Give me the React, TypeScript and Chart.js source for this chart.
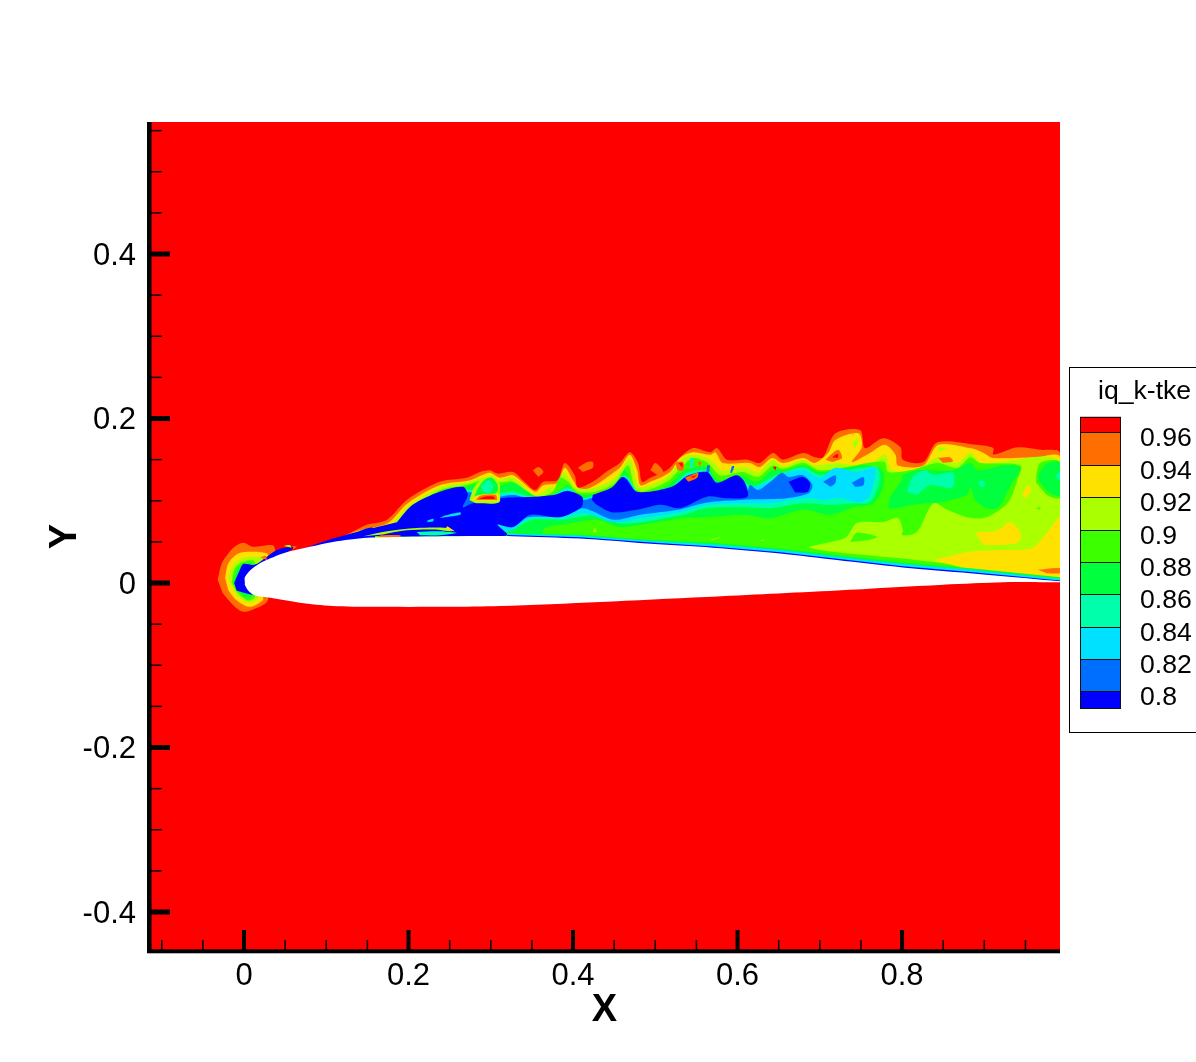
import React, { useEffect, useRef } from "react";
import { Chart, registerables } from "chart.js";

Chart.register(...registerables);

type P = number[][];

const RED = "#ff0000", ORANGE = "#ff6e00", YELLOW = "#ffe100", LIME = "#aaff00", G1 = "#3cff00",
  S = "#00ff3c", T = "#00ffaa", C = "#00e1ff", A = "#006eff", B = "#0000ff";

const xMajor = [0, 0.2, 0.4, 0.6, 0.8];
const yMajor = [-0.4, -0.2, 0, 0.2, 0.4];
const xMinor = [-0.1, -0.05, 0.05, 0.1, 0.15, 0.25, 0.3, 0.35, 0.45, 0.5, 0.55, 0.65, 0.7, 0.75, 0.85, 0.9, 0.95];
const yMinor = [-0.35, -0.3, -0.25, -0.15, -0.1, -0.05, 0.05, 0.1, 0.15, 0.25, 0.3, 0.35, 0.45, 0.5, 0.55];
const legendColors = [RED, ORANGE, YELLOW, LIME, G1, S, T, C, A, B];
const legendLabels = ["0.96", "0.94", "0.92", "0.9", "0.88", "0.86", "0.84", "0.82", "0.8"];

const X_MIN = -0.1155, X_MAX = 0.992, Y_MIN = -0.4474, Y_MAX = 0.5605;

const field: P = [[X_MIN, Y_MIN], [X_MAX, Y_MIN], [X_MAX, Y_MAX], [X_MIN, Y_MAX]];

const airfoil: P = [[.001,.001],[.001,.007],[.007,.015],[.016,.022],[.032,.030],[.047,.036],[.080,.044],[.108,.050],[.150,.055],[.190,.056],[.250,.057],[.327,.057],[.409,.054],[.490,.048],[.570,.043],[.652,.036],[.721,.028],[.801,.019],[.883,.012],[.992,.002],[.992,.001],[.923,.001],[.850,-.002],[.721,-.009],[.640,-.013],[.561,-.017],[.433,-.023],[.311,-.028],[.247,-.029],[.157,-.029],[.108,-.028],[.068,-.024],[.032,-.018],[.013,-.015],[.005,-.009],[.001,-.002]];

const orangeMain: P = [[.074,.041],[.108,.051],[.141,.067],[.150,.071],[.174,.077],[.198,.101],[.238,.123],[.271,.128],[.287,.135],[.299,.137],[.308,.133],[.327,.135],[.339,.125],[.354,.113],[.364,.123],[.381,.125],[.390,.146],[.402,.131],[.406,.116],[.424,.123],[.443,.137],[.457,.146],[.469,.159],[.479,.146],[.484,.123],[.494,.128],[.514,.137],[.527,.150],[.546,.164],[.567,.159],[.575,.164],[.587,.150],[.612,.150],[.627,.146],[.643,.158],[.655,.150],[.680,.158],[.694,.153],[.704,.153],[.719,.182],[.749,.186],[.755,.164],[.777,.176],[.798,.165],[.801,.150],[.826,.147],[.843,.171],[.891,.168],[.911,.164],[.911,.156],[.940,.165],[.968,.162],[.992,.158],[.992,.01],[.3,.03],[.074,.03]];
const orangeLE: P = [[-.032,.004],[-.027,.024],[-.019,.036],[-.013,.043],[-.001,.049],[.011,.044],[.035,.046],[.038,.038],[.03,.01],[.030,-.012],[.028,-.023],[.016,-.030],[-.001,-.035],[-.013,-.027],[-.026,-.012]];
const orangeIsle1: P = [[.351,.137],[.358,.141],[.364,.135],[.358,.129]];
const orangeIsle2: P = [[.406,.140],[.417,.147],[.424,.147],[.424,.140],[.412,.135]];
const orangeIsle3: P = [[.494,.137],[.500,.146],[.510,.135],[.503,.131]];
const orangeTip: P = [[.058,.045],[.064,.044],[.06,.041]];

const yellowMain: P = [[.092,.046],[.141,.064],[.175,.073],[.199,.097],[.238,.119],[.275,.125],[.289,.131],[.299,.134],[.311,.128],[.327,.131],[.354,.111],[.364,.119],[.381,.122],[.390,.140],[.400,.125],[.409,.113],[.427,.119],[.449,.134],[.457,.140],[.469,.156],[.478,.137],[.482,.119],[.494,.123],[.518,.135],[.530,.152],[.546,.159],[.567,.156],[.573,.159],[.582,.146],[.615,.146],[.627,.141],[.642,.152],[.655,.146],[.680,.152],[.694,.146],[.710,.158],[.719,.174],[.747,.182],[.751,.165],[.739,.147],[.761,.158],[.779,.168],[.792,.156],[.795,.143],[.826,.143],[.844,.168],[.883,.164],[.899,.158],[.910,.152],[.964,.153],[.992,.153],[.992,.008],[.433,.045],[.092,.036]];
const yellowLE: P = [[-.023,.006],[-.019,.024],[-.007,.036],[.013,.038],[.028,.036],[.029,.033],[.02,.015],[.023,-.016],[.023,-.021],[.007,-.029],[-.009,-.021],[-.019,-.009]];

const limeMain: P = [[.105,.046],[.147,.062],[.180,.073],[.202,.095],[.241,.117],[.269,.122],[.291,.128],[.308,.125],[.327,.128],[.354,.107],[.372,.116],[.381,.117],[.388,.135],[.405,.116],[.427,.116],[.451,.128],[.469,.150],[.478,.122],[.482,.116],[.514,.129],[.534,.152],[.546,.156],[.567,.150],[.582,.137],[.607,.141],[.625,.135],[.643,.150],[.655,.142],[.680,.150],[.694,.143],[.719,.146],[.758,.143],[.779,.156],[.788,.137],[.822,.140],[.843,.153],[.867,.146],[.883,.158],[.897,.146],[.992,.147],[.992,.007],[.9,.014],[.45,.035],[.105,.035]];
const limeLE: P = [[-.019,.004],[-.015,.019],[-.002,.030],[.016,.032],[.023,.030],[.019,.016],[.017,-.018],[.005,-.024],[-.009,-.015]];

const g1Main: P = [[.111,.046],[.153,.061],[.186,.073],[.204,.092],[.241,.114],[.269,.119],[.291,.125],[.308,.122],[.327,.123],[.354,.105],[.375,.111],[.384,.128],[.394,.123],[.405,.111],[.427,.111],[.451,.122],[.467,.143],[.475,.116],[.484,.111],[.514,.123],[.534,.143],[.546,.152],[.564,.146],[.579,.131],[.606,.135],[.625,.129],[.643,.143],[.655,.139],[.680,.146],[.700,.137],[.733,.141],[.758,.146],[.779,.147],[.783,.135],[.810,.137],[.843,.146],[.867,.140],[.883,.153],[.895,.146],[.944,.143],[.940,.125],[.931,.101],[.919,.089],[.899,.079],[.879,.080],[.855,.089],[.838,.097],[.818,.062],[.800,.058],[.801,.064],[.795,.079],[.777,.074],[.745,.073],[.731,.055],[.688,.043],[.798,.030],[.919,.016],[.980,.009],[.975,.006],[.900,.013],[.652,.030],[.311,.045],[.111,.042]];
const g1Right: P = [[.963,.131],[.968,.146],[.992,.147],[.992,.104],[.978,.106],[.963,.122]];
const g1Isle: P = [[.737,.050],[.745,.061],[.770,.056],[.758,.052]];
const g1Dot: P = [[.963,.091],[.969,.092],[.966,.089]];
const g1LE: P = [[-.015,.001],[-.011,.018],[-.001,.026],[.013,.026],[.013,-.017],[.004,-.021],[-.009,-.011]];

const s1: P = [[.190,.073],[.207,.091],[.242,.112],[.269,.117],[.291,.122],[.308,.117],[.327,.122],[.356,.105],[.376,.108],[.394,.119],[.402,.109],[.427,.108],[.451,.117],[.463,.137],[.473,.113],[.485,.109],[.516,.119],[.536,.137],[.563,.141],[.576,.125],[.603,.131],[.624,.123],[.643,.137],[.658,.137],[.680,.143],[.700,.135],[.733,.140],[.758,.143],[.776,.137],[.777,.117],[.765,.097],[.741,.092],[.713,.083],[.680,.089],[.640,.079],[.607,.083],[.563,.080],[.534,.079],[.485,.071],[.457,.068],[.429,.077],[.388,.071],[.366,.067],[.360,.057],[.320,.061],[.190,.064]];
const s2: P = [[.801,.131],[.818,.137],[.862,.137],[.883,.146],[.892,.137],[.923,.143],[.944,.140],[.931,.117],[.917,.092],[.903,.091],[.889,.101],[.883,.116],[.879,.107],[.846,.098],[.830,.097],[.813,.095],[.785,.091],[.785,.103],[.800,.125]];
const s3: P = [[.965,.131],[.976,.145],[.992,.146],[.992,.107],[.980,.109],[.968,.122]];
const sLE: P = [[-.013,.001],[-.007,.018],[.001,.024],[.011,.022],[.011,-.015],[.001,-.017],[-.007,-.009]];

const tMain: P = [[.193,.073],[.209,.090],[.243,.109],[.266,.114],[.308,.109],[.327,.111],[.356,.103],[.376,.107],[.394,.116],[.411,.103],[.427,.107],[.449,.116],[.463,.131],[.478,.111],[.485,.107],[.520,.117],[.539,.134],[.563,.137],[.575,.122],[.601,.128],[.618,.117],[.642,.129],[.658,.135],[.680,.141],[.700,.131],[.733,.137],[.758,.141],[.770,.141],[.773,.125],[.761,.098],[.741,.097],[.713,.095],[.680,.097],[.640,.091],[.612,.092],[.563,.091],[.534,.083],[.485,.074],[.454,.073],[.429,.083],[.388,.077],[.351,.077],[.330,.067],[.317,.062],[.299,.064],[.193,.067]];
const tIsle1: P = [[.806,.111],[.813,.129],[.828,.137],[.838,.131],[.862,.134],[.861,.116],[.834,.119],[.818,.107]];
const tIsle2: P = [[.892,.122],[.897,.125],[.901,.119],[.897,.116]];
const tIsle3: P = [[.986,.129],[.992,.135],[.992,.125]];

const cMain: P = [[.196,.073],[.212,.089],[.244,.108],[.266,.112],[.308,.107],[.327,.108],[.356,.102],[.376,.106],[.394,.113],[.411,.102],[.427,.106],[.449,.113],[.463,.129],[.478,.109],[.485,.106],[.520,.116],[.539,.131],[.563,.135],[.575,.119],[.601,.125],[.615,.117],[.642,.125],[.658,.134],[.680,.137],[.700,.128],[.719,.140],[.745,.135],[.767,.140],[.761,.107],[.749,.098],[.725,.103],[.704,.101],[.692,.103],[.664,.101],[.640,.097],[.607,.097],[.563,.095],[.530,.086],[.485,.079],[.449,.074],[.412,.085],[.384,.079],[.348,.079],[.326,.064],[.311,.064],[.196,.069]];

const aMain: P = [[.198,.073],[.214,.088],[.246,.107],[.266,.111],[.308,.105],[.327,.107],[.356,.101],[.376,.105],[.394,.112],[.411,.101],[.427,.105],[.449,.112],[.463,.128],[.478,.108],[.485,.105],[.520,.114],[.539,.130],[.563,.134],[.575,.118],[.599,.130],[.612,.111],[.615,.119],[.625,.113],[.640,.123],[.654,.134],[.662,.129],[.679,.131],[.691,.119],[.686,.109],[.660,.103],[.640,.102],[.603,.101],[.563,.098],[.527,.089],[.482,.083],[.449,.077],[.412,.091],[.384,.081],[.345,.080],[.327,.068],[.308,.073],[.198,.069]];
const aIsle1: P = [[.704,.123],[.719,.131],[.719,.122],[.713,.117]];
const aIsle2: P = [[.739,.122],[.753,.129],[.753,.119],[.743,.117]];
const aIsle3: P = [[.563,.143],[.566,.143],[.565,.134],[.562,.134]];
const aIsle4: P = [[.593,.142],[.596,.142],[.593,.134],[.591,.134]];

const blue1: P = [[.186,.074],[.205,.095],[.238,.111],[.266,.117],[.272,.107],[.266,.092],[.278,.097],[.308,.098],[.311,.103],[.354,.105],[.376,.107],[.394,.112],[.411,.105],[.412,.097],[.409,.091],[.384,.080],[.348,.083],[.327,.068],[.308,.071],[.320,.058],[.259,.057],[.141,.058],[.157,.067]];
const blue2: P = [[.424,.107],[.447,.116],[.461,.129],[.478,.111],[.520,.117],[.539,.130],[.563,.135],[.575,.122],[.599,.131],[.609,.122],[.612,.105],[.587,.103],[.563,.105],[.530,.091],[.506,.095],[.478,.089],[.447,.086],[.429,.095],[.423,.101]];
const blue3: P = [[.662,.123],[.679,.129],[.688,.122],[.685,.111],[.670,.110]];
const blueLE: P = [[-.012,0],[-.005,.016],[-.001,.023],[.011,.022],[.017,.024],[.040,.040],[.056,.044],[.060,.043],[.047,.034],[.020,.016],[.013,-.013],[.001,-.012],[-.009,-.009]];
const blueStreak: P = [[.068,.040],[.084,.046],[.108,.054],[.137,.062],[.157,.067],[.157,.050],[.108,.040],[.068,.030]];

const pocketLime: P = [[.274,.101],[.280,.117],[.289,.126],[.302,.130],[.310,.123],[.311,.111],[.310,.098],[.282,.097]];
const pocketGreen: P = [[.280,.105],[.285,.116],[.292,.125],[.301,.128],[.308,.120],[.308,.111],[.302,.107],[.287,.107]];
const pocketTeal: P = [[.288,.118],[.297,.125],[.303,.117],[.297,.109],[.291,.112]];
const pocketYellow: P = [[.277,.100],[.282,.106],[.308,.108],[.310,.100]];
const pocketOrange: P = [[.282,.101],[.287,.106],[.306,.107],[.308,.101]];
const pocketRed: P = [[.285,.102],[.292,.105],[.304,.105],[.305,.102]];

const streakLime: P = [[.145,.057],[.174,.063],[.210,.067],[.247,.067],[.253,.063],[.230,.065],[.198,.064],[.169,.059]];
const streakTeal: P = [[.210,.062],[.238,.063],[.259,.061],[.238,.058],[.214,.058]];
const streakOrange: P = [[.162,.055],[.190,.056],[.190,.058],[.166,.058]];
const streakYellow: P = [[.247,.069],[.256,.063],[.245,.066]];
const streakCyan1: P = [[.238,.079],[.263,.083],[.263,.086],[.244,.082]];
const streakCyan2: P = [[.223,.074],[.230,.075],[.230,.078],[.223,.076]];
const tipLime: P = [[.048,.045],[.056,.046],[.058,.043]];
const dotOrange: P = [[.02,.031],[.026,.033],[.028,.028]];

const yellowWake: P = [[.838,.028],[.883,.038],[.923,.040],[.959,.043],[.976,.061],[.992,.079],[.992,.006],[.944,.011],[.883,.016]];
const yellowIsle1: P = [[.889,.061],[.916,.064],[.931,.074],[.944,.062],[.941,.049],[.899,.046]];
const yellowIsle2: P = [[.946,.107],[.953,.119],[.957,.113],[.950,.103]];
const orangeWake: P = [[.965,.016],[.992,.018],[.992,.012],[.976,.012]];
const orangeTop1: P = [[.844,.152],[.858,.153],[.862,.148],[.850,.146]];
const limeTop1: P = [[.843,.165],[.855,.164],[.846,.159]];
const limeTop2: P = [[.739,.171],[.747,.176],[.743,.162]];
const orangeTop2: P = [[.707,.150],[.722,.162],[.727,.152],[.715,.147]];
const redTop2: P = [[.715,.153],[.722,.157],[.722,.152]];
const limeSpot1: P = [[.424,.062],[.427,.067],[.429,.061]];
const limeSpot2: P = [[.567,.053],[.579,.056],[.570,.052]];
const limeSpot3: P = [[.627,.052],[.633,.053],[.630,.051]];
const orangeMid1: P = [[.524,.147],[.534,.147],[.534,.137],[.527,.137]];
const redMid1: P = [[.528,.146],[.533,.146],[.533,.140]];
const orangeMid2: P = [[.536,.128],[.552,.134],[.551,.128],[.540,.123]];
const redMid2: P = [[.542,.129],[.550,.131],[.547,.128]];
const tealMid: P = [[.542,.152],[.546,.152],[.546,.140],[.542,.140]];
const orangeMid3: P = [[.552,.147],[.556,.147],[.554,.141]];
const redMid3: P = [[.643,.141],[.647,.141],[.646,.137]];

const wallGreen: P = [[.32,.061],[.409,.059],[.490,.053],[.570,.049],[.652,.042],[.721,.034],[.801,.025],[.883,.018],[.992,.007],[.992,.002],[.32,.05]];
const wallCyan: P = [[.32,.060],[.409,.0575],[.490,.0515],[.570,.047],[.652,.040],[.721,.032],[.801,.023],[.883,.016],[.992,.005],[.992,.002],[.32,.05]];
const wallBlue: P = [[.32,.0585],[.409,.0555],[.490,.0495],[.570,.0445],[.652,.0375],[.721,.0295],[.801,.0205],[.883,.0135],[.992,.003],[.992,.002],[.32,.05]];

const layers: [P, string][] = [
  [field, RED],
  [orangeMain, ORANGE], [orangeLE, ORANGE], [orangeIsle1, ORANGE], [orangeIsle2, ORANGE], [orangeIsle3, ORANGE], [orangeTip, ORANGE],
  [yellowMain, YELLOW], [yellowLE, YELLOW],
  [limeMain, LIME], [limeLE, LIME],
  [g1Main, G1], [g1Right, G1], [g1Isle, G1], [g1Dot, G1], [g1LE, G1],
  [s1, S], [s2, S], [s3, S], [sLE, S],
  [tMain, T], [tIsle1, T], [tIsle2, T], [tIsle3, T],
  [cMain, C],
  [aMain, A], [aIsle1, A], [aIsle2, A], [aIsle3, A], [aIsle4, A],
  [blue1, B], [blue2, B], [blue3, B], [blueLE, B], [blueStreak, B],
  [pocketLime, LIME], [pocketGreen, S], [pocketTeal, T], [pocketYellow, YELLOW], [pocketOrange, ORANGE], [pocketRed, RED],
  [streakLime, LIME], [streakTeal, T], [streakOrange, ORANGE], [streakYellow, YELLOW], [streakCyan1, C], [streakCyan2, C], [tipLime, LIME], [dotOrange, ORANGE],
  [yellowWake, YELLOW], [yellowIsle1, YELLOW], [yellowIsle2, YELLOW], [orangeWake, ORANGE],
  [orangeTop1, ORANGE], [limeTop1, LIME], [limeTop2, LIME], [orangeTop2, ORANGE], [redTop2, RED],
  [limeSpot1, LIME], [limeSpot2, LIME], [limeSpot3, LIME],
  [orangeMid1, ORANGE], [redMid1, RED], [orangeMid2, ORANGE], [redMid2, RED], [tealMid, T], [orangeMid3, ORANGE], [redMid3, RED],
  [wallGreen, S], [wallCyan, C], [wallBlue, B],
  [airfoil, "#ffffff"],
];

const FONT = "'Liberation Sans', Arial, sans-serif";

const framePlugin = {
  id: "frame",
  afterDraw(chart: any) {
    const { ctx, chartArea: a, scales } = chart;
    const xs = scales.x, ys = scales.y;
    ctx.save();
    ctx.fillStyle = "#000";
    for (const v of xMinor) { const p = xs.getPixelForValue(v); ctx.fillRect(p - 0.75, a.bottom - 11, 1.5, 11); }
    for (const v of yMinor) { const p = ys.getPixelForValue(v); ctx.fillRect(a.left, p - 0.75, 13, 1.5); }
    for (const v of xMajor) { const p = xs.getPixelForValue(v); ctx.fillRect(p - 2, a.bottom - 21, 4, 21); }
    for (const v of yMajor) { const p = ys.getPixelForValue(v); ctx.fillRect(a.left, p - 2.5, 21, 5); }
    ctx.fillRect(147, a.top, 4.5, a.bottom + 2 - a.top);
    ctx.fillRect(147, 949.3, a.right - 147, 4);
    ctx.fillStyle = "#fff";
    ctx.fillRect(1069, 367, 127, 366);
    ctx.strokeStyle = "#000";
    ctx.lineWidth = 1;
    ctx.strokeRect(1069.5, 367.5, 130, 365);
    ctx.fillStyle = "#000";
    ctx.font = `26.6px ${FONT}`;
    ctx.textBaseline = "middle";
    ctx.textAlign = "left";
    ctx.fillText("iq_k-tke", 1098, 392);
    const bx = 1080, bw = 41;
    const edges = [416.7, 432.3, 465, 497.3, 529.7, 562, 594.3, 627, 659, 691.3, 708];
    legendColors.forEach((c, i) => {
      ctx.fillStyle = c;
      ctx.fillRect(bx, edges[i], bw, edges[i + 1] - edges[i]);
    });
    ctx.strokeStyle = "#111";
    ctx.beginPath();
    edges.forEach((e) => { const y = Math.round(e) + 0.5; ctx.moveTo(bx, y); ctx.lineTo(bx + bw, y); });
    ctx.moveTo(bx + 0.5, 417); ctx.lineTo(bx + 0.5, 708.5);
    ctx.moveTo(bx + bw - 0.5, 417); ctx.lineTo(bx + bw - 0.5, 708.5);
    ctx.stroke();
    ctx.fillStyle = "#000";
    ctx.font = `26.6px ${FONT}`;
    legendLabels.forEach((t, i) => ctx.fillText(t, 1140, edges[i + 1] + 6.5));
    ctx.restore();
  },
};

export default function App() {
  const ref = useRef<HTMLCanvasElement>(null);
  useEffect(() => {
    const chart = new Chart(ref.current!, {
      type: "scatter",
      data: {
        datasets: layers.map(([pts, color], i) => ({
          data: pts.map(([x, y]) => ({ x, y })),
          showLine: true,
          fill: "shape",
          backgroundColor: color,
          borderColor: color,
          borderWidth: 0,
          pointRadius: 0,
          tension: pts === field || pts === wallBlue || pts === wallCyan || pts === wallGreen ? 0 : 0.3,
          order: layers.length - i,
        })),
      } as any,
      options: {
        animation: false,
        responsive: false,
        layout: { padding: { left: 0, top: 122, right: 136, bottom: 0 } },
        plugins: { legend: { display: false }, tooltip: { enabled: false } },
        events: [],
        scales: {
          x: {
            type: "linear",
            min: X_MIN,
            max: X_MAX,
            grid: { display: false },
            border: { display: false },
            afterBuildTicks: (s: any) => { s.ticks = xMajor.map((value) => ({ value })); },
            afterFit: (s: any) => { s.height = 111; },
            ticks: { color: "#000", font: { family: FONT, size: 31 }, padding: -1, maxRotation: 0, autoSkip: false, callback: (v: any) => String(v) },
            title: { display: true, text: "X", color: "#000", font: { family: FONT, size: 38, weight: "bold" }, padding: { top: 0, bottom: 29 } },
          },
          y: {
            type: "linear",
            min: Y_MIN,
            max: Y_MAX,
            grid: { display: false },
            border: { display: false },
            afterBuildTicks: (s: any) => { s.ticks = yMajor.map((value) => ({ value })); },
            afterFit: (s: any) => { s.width = 149; },
            ticks: { color: "#000", font: { family: FONT, size: 31 }, padding: 5, labelOffset: 2, autoSkip: false, callback: (v: any) => String(v) },
            title: { display: true, text: "Y", color: "#000", font: { family: FONT, size: 38, weight: "bold" }, padding: { top: 43, bottom: 0 } },
          },
        },
      } as any,
      plugins: [framePlugin],
    });
    return () => chart.destroy();
  }, []);
  return (
    <div style={{ position: "absolute", left: 0, top: 0, width: 1196, height: 1062, overflow: "hidden", background: "#fff" }}>
      <canvas ref={ref} width={1196} height={1062} style={{ display: "block" }} />
    </div>
  );
}
